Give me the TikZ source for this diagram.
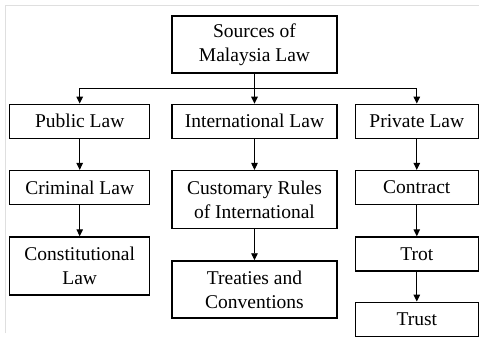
\documentclass[tikz,border=0pt]{standalone}
\usepackage{fontspec}
\setmainfont{Liberation Serif}
\usetikzlibrary{arrows.meta,positioning,calc}
\tikzset{
  lawbox/.style = {rectangle, draw=black, line width=1.3pt, fill=white,
                   align=center, inner sep=2pt,
                   font=\fontsize{19.5}{24}\selectfont},
  lbox/.style   = {lawbox, minimum width=140pt, minimum height=34pt},
  mbox/.style   = {lawbox, minimum width=165pt, minimum height=34pt},
  rbox/.style   = {lawbox, minimum width=123pt, minimum height=34pt},
  arr/.style    = {-{Triangle[length=7pt,width=6.5pt]}, line width=1.2pt, draw=black},
  frame/.style  = {draw=gray!25, line width=1pt},
}
\begin{document}
\begin{tikzpicture}

%% -- Root ------------------------------------------------
\node[lawbox, minimum width=165pt, minimum height=57pt]
  (sources) {Sources of\\Malaysia Law};

%% -- First level -----------------------------------------
\node[mbox, below=30pt of sources]  (intl)    {International Law};
\node[lbox, left=21pt of intl]      (public)  {Public Law};
\node[rbox, right=17pt of intl]     (private) {Private Law};

%% -- Second level ----------------------------------------
\node[lbox, below=31pt of public]   (criminal)  {Criminal Law};
\node[mbox, below=31pt of intl, minimum height=58pt]
  (customary) {Customary Rules\\of International};
\node[rbox, below=31pt of private]  (contract)  {Contract};

%% -- Third level -----------------------------------------
\node[lbox, below=31pt of criminal, minimum height=58pt]
  (constitutional) {Constitutional\\Law};
\node[mbox, below=31pt of customary, minimum height=57pt]
  (treaties) {Treaties and\\Conventions};
\node[rbox, below=31pt of contract]  (trot)  {Trot};
\node[rbox, below=30pt of trot]      (trust) {Trust};

%% -- Page size and frame ---------------------------------
\coordinate (nw) at ($(sources.center)+(-254.5pt,44.5pt)$);
\coordinate (fsw) at ($(sources.center)+(-248.5pt,-288.5pt)$);
\coordinate (fne) at ($(sources.center)+(224.5pt,38.5pt)$);
\useasboundingbox (nw) rectangle ++(479pt,-333pt);
\draw[frame] (fsw) |- (fne);

%% -- Arrows: root -> first level -------------------------
\draw[arr] (sources.south) -- ++(0,-15pt) -| (public);
\draw[arr] (sources.south) -- ++(0,-15pt) -| (private);
\draw[arr] (sources) -- (intl);

%% -- Arrows: down each column ----------------------------
\draw[arr] (public)    -- (criminal);
\draw[arr] (criminal)  -- (constitutional);
\draw[arr, line width=0.9pt] (intl)      -- (customary);
\draw[arr, line width=0.9pt] (customary) -- (treaties);
\draw[arr] (private)   -- (contract);
\draw[arr] (contract)  -- (trot);
\draw[arr] (trot)      -- (trust);

\end{tikzpicture}
\end{document}
